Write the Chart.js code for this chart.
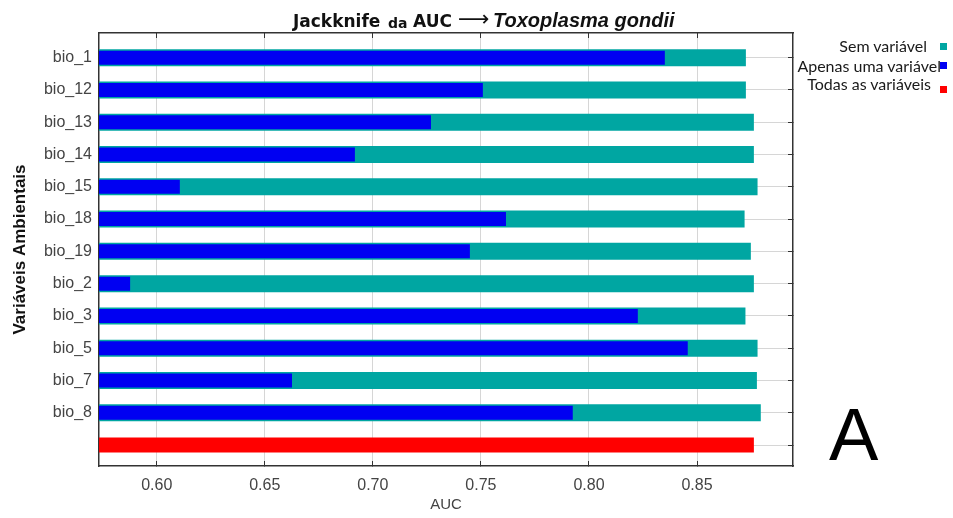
<!DOCTYPE html>
<html>
<head>
<meta charset="utf-8">
<script src="https://cdn.jsdelivr.net/npm/chart.js@4.4.1/dist/chart.umd.min.js"></script>
<style>
  html, body { margin: 0; padding: 0; background: #ffffff; }
  #wrap { position: relative; width: 953px; height: 518px; overflow: hidden; }
  #c { position: absolute; left: 0; top: 0; }
  .t { position: absolute; white-space: nowrap; color: #111; }
  .lg { position: absolute; white-space: nowrap; color: #1a1a1a; font: 16px/1 'Lato', 'Liberation Sans', sans-serif; }
  .lb { position: absolute; width: 7px; height: 7px; }
</style>
</head>
<body>
<div id="wrap">
  <canvas id="c" width="953" height="518"></canvas>
  <span class="t" style="left:293px;top:12.6px;font:bold 17px/1 'DejaVu Sans', sans-serif;">Jackknife</span>
  <span class="t" style="left:388px;top:16px;font:bold 14px/1 'DejaVu Sans', sans-serif;">da</span>
  <span class="t" style="left:413px;top:12.6px;font:bold 17px/1 'DejaVu Sans', sans-serif;">AUC</span>
  <span class="t" style="left:458px;top:8px;font:22px/1 'DejaVu Sans', sans-serif;">⟶</span>
  <span class="t" style="left:493px;top:9.7px;font:italic bold 20px/1 'Liberation Sans', sans-serif;">Toxoplasma gondii</span>
  <span class="t" style="left:829px;top:398px;font:74px/1 'Liberation Sans', sans-serif;color:#000;">A</span>
  <div id="legend"></div>
</div>
<script>
// ---- data ----
const variables = ['bio_1', 'bio_12', 'bio_13', 'bio_14', 'bio_15', 'bio_18', 'bio_19', 'bio_2', 'bio_3', 'bio_5', 'bio_7', 'bio_8'];
const semVariavel = [0.8726, 0.8726, 0.8763, 0.8763, 0.8780, 0.8720, 0.8749, 0.8763, 0.8724, 0.8780, 0.8777, 0.8795];
const apenasUmaVariavel = [0.8351, 0.7509, 0.7269, 0.6917, 0.6107, 0.7616, 0.7449, 0.5877, 0.8226, 0.8457, 0.6626, 0.7925];
const todasVariaveis = [0.8763];
const xTickValues = [0.60, 0.65, 0.70, 0.75, 0.80, 0.85];
const yLabels = variables.concat(['']);
const legendLabels = ['Sem variável', 'Apenas uma variável', 'Todas as variáveis'];

// ---- styling ----
const X_MIN = 0.5733, X_MAX = 0.8944;
const Y_MIN = -0.765, Y_MAX = 12.65;
const COL = { teal: '#00a6a2', blue: '#0000f2', red: '#ff0000' };
const GRID = '#d6d6d6', AXIS = '#333333', TXT = '#444444';

const setXTicks = s => { s.ticks = xTickValues.map(v => ({ value: v })); };
const setYTicks = s => { s.ticks = yLabels.map((_, i) => ({ value: i })); };

const chart = new Chart(document.getElementById('c'), {
  type: 'bar',
  data: {
    datasets: [
      { label: legendLabels[1], data: apenasUmaVariavel.map((v, i) => ({ x: v, y: i })),
        backgroundColor: COL.blue, maxBarThickness: 14, grouped: false, borderWidth: 0 },
      { label: legendLabels[0], data: semVariavel.map((v, i) => ({ x: v, y: i })),
        backgroundColor: COL.teal, maxBarThickness: 17, grouped: false, borderWidth: 0 },
      { label: legendLabels[2], data: todasVariaveis.map(v => ({ x: v, y: variables.length })),
        backgroundColor: COL.red, maxBarThickness: 15, grouped: false, borderWidth: 0 }
    ]
  },
  options: {
    indexAxis: 'y',
    responsive: false,
    animation: false,
    devicePixelRatio: 1,
    layout: { padding: { left: 0, right: 160, top: 33, bottom: 0 } },
    plugins: { legend: { display: false }, tooltip: { enabled: false }, title: { display: false } },
    scales: {
      x: {
        type: 'linear', position: 'bottom', min: X_MIN, max: X_MAX, beginAtZero: false, offset: false,
        afterBuildTicks: setXTicks,
        afterFit: s => { s.height = 52; },
        ticks: { callback: v => Number(v).toFixed(2), color: TXT, font: { family: 'Liberation Sans', size: 16 },
                 padding: 15, maxRotation: 0, autoSkip: false },
        grid: { color: GRID, lineWidth: 1, tickColor: AXIS, tickLength: -5, drawTicks: true, offset: false },
        border: { color: AXIS, width: 1.5 },
        title: { display: true, text: 'AUC', color: TXT, font: { family: 'Liberation Sans', size: 15 },
                 padding: { top: 0, bottom: 4 } }
      },
      x2: {
        type: 'linear', position: 'top', min: X_MIN, max: X_MAX, beginAtZero: false, offset: false,
        afterBuildTicks: setXTicks,
        afterFit: s => { s.height = 0; },
        ticks: { display: false },
        grid: { drawOnChartArea: false, tickColor: AXIS, tickLength: -5, offset: false },
        border: { color: AXIS, width: 1.5 }
      },
      y: {
        type: 'linear', position: 'left', reverse: true, min: Y_MIN, max: Y_MAX, offset: false,
        afterBuildTicks: setYTicks,
        afterFit: s => { s.width = 99; },
        ticks: { callback: v => yLabels[v] ?? '', color: TXT, font: { family: 'Liberation Sans', size: 16 },
                 padding: 7, autoSkip: false },
        grid: { color: GRID, lineWidth: 1, drawTicks: false, offset: false },
        border: { color: AXIS, width: 1.5 },
        title: { display: true, text: 'Variáveis Ambientais', color: '#111',
                 font: { family: 'Liberation Sans', size: 17, weight: 'bold' }, padding: { top: 10, bottom: 0 } }
      },
      y2: {
        type: 'linear', position: 'right', reverse: true, min: Y_MIN, max: Y_MAX, offset: false,
        afterBuildTicks: setYTicks,
        afterFit: s => { s.width = 0; },
        ticks: { display: false },
        grid: { drawOnChartArea: false, tickColor: AXIS, tickLength: -5, offset: false },
        border: { color: AXIS, width: 1.5 }
      }
    }
  }
});

// ---- HTML legend built from the datasets (order: Sem, Apenas, Todas) ----
const legendLayout = [
  { textRight: 26, textTop: 38, boxTop: 43 },
  { textRight: 12, textTop: 57.5, boxTop: 62 },
  { textRight: 22, textTop: 76, boxTop: 86 }
];
const legendEl = document.getElementById('legend');
legendLabels.forEach((lab, k) => {
  const ds = chart.data.datasets.find(d => d.label === lab);
  const pos = legendLayout[k];
  const t = document.createElement('span');
  t.className = 'lg'; t.textContent = lab;
  t.style.right = pos.textRight + 'px'; t.style.top = pos.textTop + 'px';
  const b = document.createElement('span');
  b.className = 'lb'; b.style.background = ds.backgroundColor;
  b.style.left = '939.5px'; b.style.top = pos.boxTop + 'px';
  legendEl.appendChild(t); legendEl.appendChild(b);
});
</script>
</body>
</html>
